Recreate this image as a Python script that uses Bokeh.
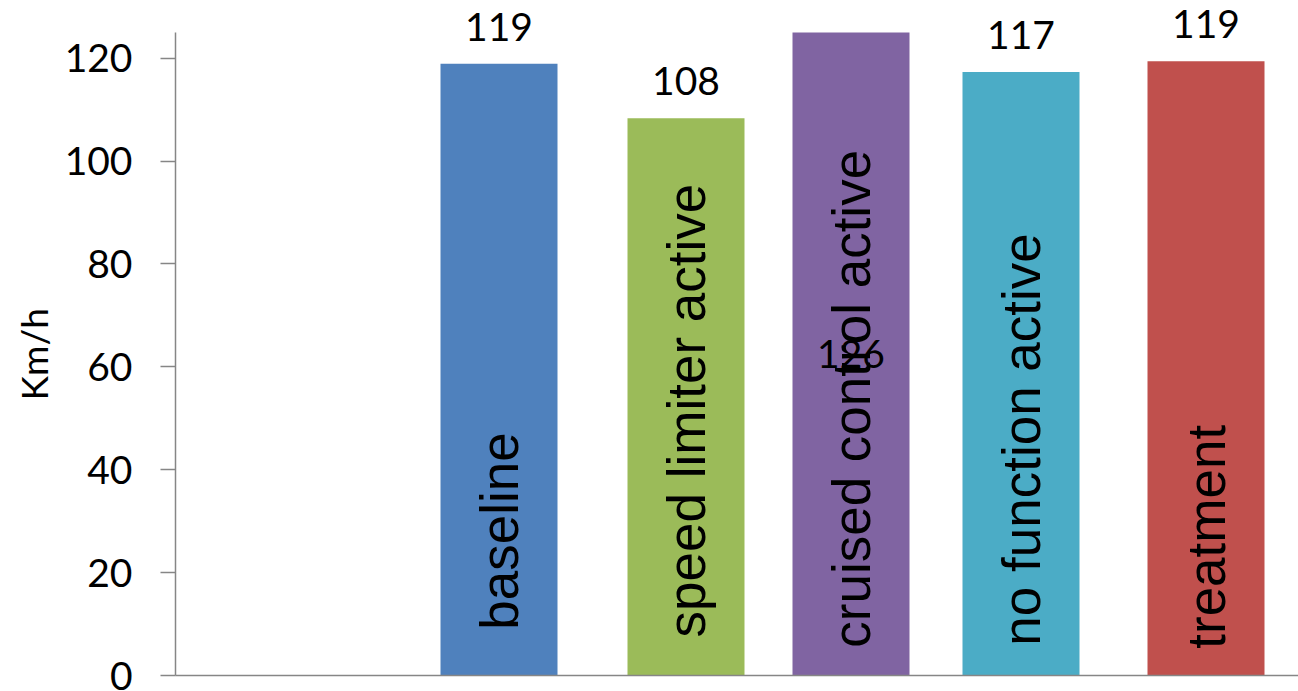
import math

from bokeh.core.properties import value
from bokeh.embed import file_html
from bokeh.models import ColumnDataSource, Range1d, FixedTicker, LabelSet, Title
from bokeh.plotting import figure
from bokeh.resources import INLINE

# Mean speed per driving condition (km/h)
conditions = ["baseline", "speed limiter active", "cruised control active",
              "no function active", "treatment"]
speeds = [118.9, 108.3, 126.0, 117.3, 119.4]
colors = ["#4F81BD", "#9BBB59", "#8064A2", "#4BACC6", "#C0504D"]
y_ticks = [0, 20, 40, 60, 80, 100, 120]

# Layout: bar slots along the horizontal axis and where each rotated name starts
slots = [3.235, 5.105, 6.755, 8.455, 10.305]
bar_width = 1.17
name_start = [8.9, 7.4, 5.4, 5.8, 5.2]
AXIS_MAX = 125      # value axis ends here; taller bars are cut at this limit
VIEW_MAX = 131.2    # head room above the axis for the value labels

# Value labels sit above each bar; a bar that runs past the axis gets its label mid-bar
shown = [min(v, AXIS_MAX) for v in speeds]
label_y = [v if v <= AXIS_MAX else AXIS_MAX / 2 for v in speeds]
label_off = [23 if v <= AXIS_MAX else -14 for v in speeds]

src = ColumnDataSource(dict(
    x=slots, top=shown, color=colors, name=conditions, name_y=name_start,
    lab=[str(round(v)) for v in speeds], lab_y=label_y, lab_off=label_off,
))

p = figure(width=1298, height=691, output_backend="svg", toolbar_location=None,
           x_range=Range1d(0, 11.23), y_range=Range1d(0, VIEW_MAX),
           min_border_left=175, min_border_right=0, min_border_top=0,
           min_border_bottom=16)
p.outline_line_color = None
p.grid.visible = False
p.background_fill_color = "white"
p.border_fill_color = "white"

p.vbar(x="x", top="top", bottom=0, width=bar_width, fill_color="color",
       line_color=None, source=src)

p.text(x="x", y="name_y", text="name", angle=math.pi / 2, source=src,
       text_align="left", text_baseline="middle", text_color="black",
       text_font=value("Liberation Sans"), text_font_size="53px")

values = LabelSet(x="x", y="lab_y", text="lab", y_offset="lab_off", source=src,
                  text_align="center", text_baseline="alphabetic",
                  text_color="black", text_font=value("Lato"),
                  text_font_size="39px")
p.add_layout(values)

# Unit title beside the value axis, level with the middle of the drawn axis
p.add_layout(Title(text="Km/h", align="left", offset=275, text_font="Lato",
                   text_font_size="37px", text_font_style="normal",
                   text_color="black", standoff=12), "left")

ax = p.yaxis[0]
ax.ticker = FixedTicker(ticks=y_ticks)
ax.bounds = (0, AXIS_MAX)
ax.major_label_text_font = "Lato"
ax.major_label_text_font_size = "39px"
ax.major_label_text_color = "black"
ax.major_label_standoff = 28
ax.axis_line_color = "#868686"
ax.axis_line_width = 1.5
ax.major_tick_line_color = "#868686"
ax.major_tick_line_width = 1.5
ax.major_tick_out = 15
ax.major_tick_in = 0
ax.minor_tick_line_color = None

xa = p.xaxis[0]
xa.axis_line_color = "#868686"
xa.axis_line_width = 1.5
xa.major_tick_line_color = None
xa.minor_tick_line_color = None
xa.major_label_text_font_size = "0px"
xa.major_label_text_color = None

open("out.html", "w").write(file_html(p, INLINE))
